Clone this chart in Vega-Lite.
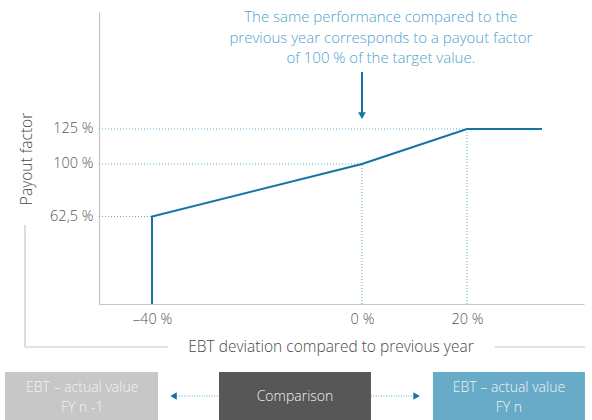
{
  "$schema": "https://vega.github.io/schema/vega-lite/v6.json",
  "width": 485,
  "height": 292,
  "autosize": "none",
  "padding": {"left": 99, "top": 12, "right": 8, "bottom": 116},
  "background": "white",
  "config": {
    "view": {"stroke": null},
    "font": "Open Sans",
    "axis": {"labelFont": "Open Sans", "titleFont": "Open Sans"}
  },
  "datasets": {
    "curve": [
      {"x": -40, "y": 0},
      {"x": -40, "y": 62.5},
      {"x": 0, "y": 100},
      {"x": 20, "y": 125},
      {"x": 34.3, "y": 125}
    ],
    "guides": [
      {"x": -50.1, "x2": 20, "y": 125, "y2": 125},
      {"x": -50.1, "x2": 0, "y": 100, "y2": 100},
      {"x": -50.1, "x2": -40, "y": 62.5, "y2": 62.5},
      {"x": 0, "x2": 0, "y": 0, "y2": 100},
      {"x": 20, "x2": 20, "y": 0, "y2": 125}
    ],
    "frame": [
      {"x": -64.2, "x2": -64.2, "y": 56.4, "y2": -30.7},
      {"x": -64.2, "x2": -36.95, "y": -30.7, "y2": -30.7},
      {"x": 25.3, "x2": 42.5, "y": -30.7, "y2": -30.7}
    ],
    "titles": [
      {"x": -5.9, "y": -30.7, "label": "EBT deviation compared to previous year", "angle": 0},
      {"x": -63.8, "y": 103.6, "label": "Payout factor", "angle": 270}
    ],
    "note": [
      {"x": 3.6, "y": 205, "label": "The same performance compared to the"},
      {"x": 3.6, "y": 190, "label": "previous year corresponds to a payout factor"},
      {"x": 3.6, "y": 175.7, "label": "of 100 % of the target value."}
    ],
    "noteArrow": [{"x": 0, "y": 165.7, "y2": 135.5}],
    "noteHead": [{"x": 0, "y": 134.5, "shape": "triangle-down"}],
    "boxes": [
      {"box": "prev", "x": -68, "x2": -38.86, "y": -48.6, "y2": -82.9},
      {"box": "cmp", "x": -27.24, "x2": 1.71, "y": -48.6, "y2": -82.9},
      {"box": "cur", "x": 13.52, "x2": 42.48, "y": -48.6, "y2": -82.9}
    ],
    "boxText": [
      {"x": -53.3, "y": -60, "label": "EBT – actual value"},
      {"x": -53.3, "y": -74.3, "label": "FY n -1"},
      {"x": -12.76, "y": -66.4, "label": "Comparison"},
      {"x": 28, "y": -60, "label": "EBT – actual value"},
      {"x": 28, "y": -74.3, "label": "FY n"}
    ],
    "linkLines": [
      {"x": -35.3, "x2": -27.24, "y": -65.7, "y2": -65.7},
      {"x": 1.71, "x2": 9.9, "y": -65.7, "y2": -65.7}
    ],
    "linkHeads": [
      {"x": -35.9, "y": -65.7, "shape": "triangle-left"},
      {"x": 10.4, "y": -65.7, "shape": "triangle-right"}
    ]
  },
  "layer": [
    {
      "data": {"name": "guides"},
      "mark": {"type": "rule", "color": "#5aaed6", "strokeWidth": 1, "strokeDash": [1, 2]},
      "encoding": {
        "x": {"field": "x", "type": "quantitative",
          "scale": {"domain": [-50.1, 42.3], "nice": false, "zero": false},
          "axis": {
            "values": [-40, 0, 20],
            "labelExpr": "(datum.value < 0 ? '–' + abs(datum.value) : datum.value) + ' %'",
            "title": null, "grid": false, "ticks": false,
            "domainColor": "#c4c4c4", "domainWidth": 1.2,
            "labelFontSize": 14.5, "labelFontWeight": 300, "labelColor": "#555555", "labelPadding": 8
          }},
        "x2": {"field": "x2"},
        "y": {"field": "y", "type": "quantitative",
          "scale": {"domain": [0, 208.57], "nice": false},
          "axis": {
            "values": [62.5, 100, 125],
            "labelExpr": "replace(format(datum.value, '.1~f'), '.', ',') + ' %'",
            "title": null, "grid": false, "ticks": false,
            "domainColor": "#c4c4c4", "domainWidth": 1.2,
            "labelFontSize": 14.5, "labelFontWeight": 300, "labelColor": "#555555", "labelPadding": 6
          }},
        "y2": {"field": "y2"}
      }
    },
    {
      "data": {"name": "curve"},
      "mark": {"type": "line", "color": "#1772a6", "strokeWidth": 2},
      "encoding": {
        "x": {"field": "x", "type": "quantitative"},
        "y": {"field": "y", "type": "quantitative"}
      }
    },
    {
      "data": {"name": "frame"},
      "mark": {"type": "rule", "color": "#c8c8c8", "strokeWidth": 1.2},
      "encoding": {
        "x": {"field": "x", "type": "quantitative"},
        "x2": {"field": "x2"},
        "y": {"field": "y", "type": "quantitative"},
        "y2": {"field": "y2"}
      }
    },
    {
      "data": {"name": "titles"},
      "mark": {"type": "text", "fontSize": 15.5, "fontWeight": 300, "color": "#4a4a4a", "align": "center", "baseline": "middle"},
      "encoding": {
        "x": {"field": "x", "type": "quantitative"},
        "y": {"field": "y", "type": "quantitative"},
        "text": {"field": "label"},
        "angle": {"field": "angle", "type": "quantitative", "scale": null}
      }
    },
    {
      "data": {"name": "note"},
      "mark": {"type": "text", "fontSize": 15, "fontWeight": 300, "color": "#4fa3cc", "align": "center", "baseline": "middle"},
      "encoding": {
        "x": {"field": "x", "type": "quantitative"},
        "y": {"field": "y", "type": "quantitative"},
        "text": {"field": "label"}
      }
    },
    {
      "data": {"name": "noteArrow"},
      "mark": {"type": "rule", "color": "#1772a6", "strokeWidth": 2},
      "encoding": {
        "x": {"field": "x", "type": "quantitative"},
        "y": {"field": "y", "type": "quantitative"},
        "y2": {"field": "y2"}
      }
    },
    {
      "data": {"name": "noteHead"},
      "mark": {"type": "point", "filled": true, "color": "#1772a6", "size": 60, "opacity": 1},
      "encoding": {
        "x": {"field": "x", "type": "quantitative"},
        "y": {"field": "y", "type": "quantitative"},
        "shape": {"field": "shape", "type": "nominal", "scale": null}
      }
    },
    {
      "data": {"name": "boxes"},
      "mark": {"type": "rect"},
      "encoding": {
        "x": {"field": "x", "type": "quantitative"},
        "x2": {"field": "x2"},
        "y": {"field": "y", "type": "quantitative"},
        "y2": {"field": "y2"},
        "fill": {"field": "box", "type": "nominal",
          "scale": {"domain": ["prev", "cmp", "cur"], "range": ["#c6c7c6", "#575757", "#67abc9"]},
          "legend": null}
      }
    },
    {
      "data": {"name": "boxText"},
      "mark": {"type": "text", "fontSize": 14, "fontWeight": 300, "color": "#f2f2f2", "align": "center", "baseline": "middle"},
      "encoding": {
        "x": {"field": "x", "type": "quantitative"},
        "y": {"field": "y", "type": "quantitative"},
        "text": {"field": "label"}
      }
    },
    {
      "data": {"name": "linkLines"},
      "mark": {"type": "rule", "color": "#5aaed6", "strokeWidth": 1, "strokeDash": [1, 1.5]},
      "encoding": {
        "x": {"field": "x", "type": "quantitative"},
        "x2": {"field": "x2"},
        "y": {"field": "y", "type": "quantitative"},
        "y2": {"field": "y2"}
      }
    },
    {
      "data": {"name": "linkHeads"},
      "mark": {"type": "point", "filled": true, "color": "#1772a6", "size": 55, "opacity": 1},
      "encoding": {
        "x": {"field": "x", "type": "quantitative"},
        "y": {"field": "y", "type": "quantitative"},
        "shape": {"field": "shape", "type": "nominal", "scale": null}
      }
    }
  ]
}
